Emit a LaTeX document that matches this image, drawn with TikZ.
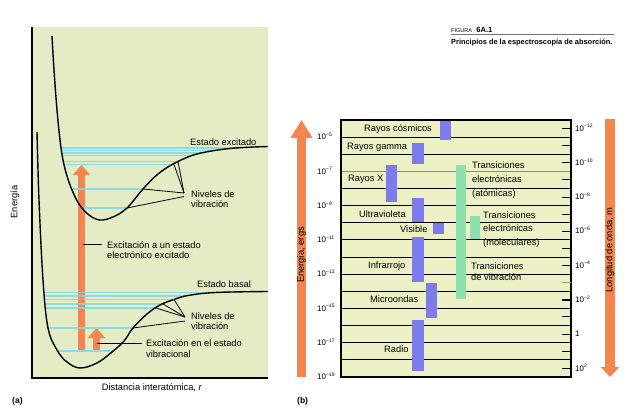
\documentclass[tikz,border=0pt]{standalone}
\usepackage{fontspec}
\setmainfont{Liberation Sans}
\usepackage{xcolor}
\usetikzlibrary{arrows.meta}

\definecolor{bgA}{RGB}{228,236,198}
\definecolor{bgB}{RGB}{237,240,196}
\definecolor{levelblue}{RGB}{120,218,240}
\definecolor{orangeA}{RGB}{245,132,78}
\definecolor{barblue}{RGB}{124,124,236}
\definecolor{bargreen}{RGB}{140,225,172}

\newcommand{\tenpow}[1]{10\raisebox{0.42em}{\fontsize{5}{5}\selectfont #1}}

\begin{document}
\begin{tikzpicture}[x=1pt, y=-1pt,
    txt/.style={font=\fontsize{9.3}{10.5}\selectfont, inner sep=0pt, anchor=west, align=left},
    potential/.style={line width=1.4pt, black, line join=round},
    level/.style={levelblue, line width=1.2pt, opacity=0.85},
    leader/.style={line width=0.8pt, black},
    % -- fat orange arrows --
    bigarrow/.style={orangeA, line width=7pt, -{Triangle[length=10pt, width=17pt]}},
    smallarrow/.style={orangeA, line width=7pt, -{Triangle[length=10pt, width=17pt]}},
    energyarrow/.style={orangeA, line width=9pt, -{Triangle[length=18pt, width=21pt]}},
    wavearrow/.style={orangeA, line width=10pt, -{Triangle[length=10pt, width=18pt]}},
    gridline/.style={line width=0.9pt, black},
    tickmark/.style={line width=1pt, black},
    band/.style={fill=barblue},
    trans/.style={fill=bargreen},
    pow/.style={font=\fontsize{8}{8}\selectfont, inner sep=0pt, anchor=base west},
]

\useasboundingbox (0,0) rectangle (635,414);
\fill[white] (0,0) rectangle (635,414);

% ══════════════════════════════════════
% Title
% ══════════════════════════════════════
\node[inner sep=0pt, anchor=west, font=\fontsize{5.5}{6}\selectfont] (fig) at (451,31) {FIGURA};
\node[inner sep=0pt, anchor=base west, font=\fontsize{7.6}{8}\selectfont\bfseries] (fignum) at ([xshift=4pt]fig.base east) {6A.1};
\draw[black!55, line width=0.6pt] (451,34.8) -- (614,34.8);
\node[inner sep=0pt, anchor=west, font=\fontsize{7.4}{8}\selectfont\bfseries] (figtitle) at (451,42.3) {Principios de la espectroscopía de absorción.};

% ══════════════════════════════════════
% (a) potential energy curves
% ══════════════════════════════════════
\fill[bgA] (32,27) rectangle (268,378);

% Excitation arrows
\coordinate (bigfoot) at (81.5,350);
\coordinate (bigtip) at (81.5,165);
\coordinate (smallfoot) at (96.5,350);
\coordinate (smalltip) at (96.5,328);
\draw[bigarrow] (bigfoot) -- (bigtip);
\draw[smallarrow] (smallfoot) -- (smalltip);

% Vibration levels, excited state
\begin{scope}
    \clip plot[smooth, tension=0.6] coordinates {(52,36) (54,70) (57,110) (60,140) (63,160) (67,176) (72,190) (79,204) (89,215) (100,220) (113,217) (127,208) (143,189) (158,174) (175,163) (197,154) (230,148.5) (268,146.5)} -- (268,36) -- cycle;
    \foreach \yy in {148,150.5,153,155.5,161.5,164.5,189,208}
        \draw[level] (40,\yy) -- (268,\yy);
\end{scope}

% Vibration levels, ground state
\begin{scope}
    \clip plot[smooth, tension=0.6] coordinates {(37,132) (39,200) (43,280) (48,328) (57,350) (67,362) (80,368) (97,363) (112,352) (124,341) (133,328) (147,314) (160,305) (174,299.5) (188,295.5) (215,292.5) (268,291.5)} -- (268,132) -- cycle;
    \foreach \yy in {292.5,296,299.5,304,308,328,351}
        \draw[level] (34,\yy) -- (268,\yy);
\end{scope}

% Curves
\draw[potential] plot[smooth, tension=0.6] coordinates {(52,36) (54,70) (57,110) (60,140) (63,160) (67,176) (72,190) (79,204) (89,215) (100,220) (113,217) (127,208) (143,189) (158,174) (175,163) (197,154) (230,148.5) (268,146.5)};
\draw[potential] plot[smooth, tension=0.6] coordinates {(37,132) (39,200) (43,280) (48,328) (57,350) (67,362) (80,368) (97,363) (112,352) (124,341) (133,328) (147,314) (160,305) (174,299.5) (188,295.5) (215,292.5) (268,291.5)};

% Axes
\draw[line width=1.2pt] (32,27) -- (32,378) -- (268,378);

% Labels
\node[txt] (exc) at (190,142) {Estado excitado};
\node[txt] (bas) at (197,284) {Estado basal};
\node[txt] (nvE) at (191,199) {Niveles de\\vibración};
\node[txt] (nvB) at (191,321) {Niveles de\\vibración};
\node[txt] (exA) at (107,250) {Excitación a un estado\\electrónico excitado};
\node[txt] (exV) at (146,348.5) {Excitación en el estado\\vibracional};
\node[txt, anchor=center, rotate=90] (energyA) at (15,202) {Energía};
\node[txt, anchor=center] (dist) at (152,388) {Distancia interatómica, \textit{r}};
\node[inner sep=0pt, anchor=west, font=\fontsize{8.5}{9}\selectfont\bfseries] (parta) at (12,401) {(a)};

% Leaders
\coordinate (nvEjoin) at (184,193);
\coordinate (nvEjoinb) at (184,196.5);
\coordinate (nvE1) at (174,164.5);
\coordinate (nvE2) at (178,161.5);
\coordinate (nvE3) at (143,189);
\coordinate (nvE4) at (127,208);
\draw[leader] (nvEjoin) -- (nvE1);
\draw[leader] (nvEjoin) -- (nvE2);
\draw[leader] (nvEjoin) -- (nvE3);
\draw[leader] (nvEjoinb) -- (nvE4);

\coordinate (nvBjoin) at (185,317);
\coordinate (nvBjoinb) at (185,321);
\coordinate (nvB1) at (156,308);
\coordinate (nvB2) at (163,304);
\coordinate (nvB3) at (174,299.5);
\coordinate (nvB4) at (133,328);
\draw[leader] (nvBjoin) -- (nvB1);
\draw[leader] (nvBjoin) -- (nvB2);
\draw[leader] (nvBjoin) -- (nvB3);
\draw[leader] (nvBjoinb) -- (nvB4);

\coordinate (exAarr) at (83,244);
\coordinate (exVarr) at (97,343.5);
\draw[leader] (exAarr) -- ([xshift=-5pt]exAarr -| exA.west);
\draw[leader] (exVarr) -- ([xshift=-4pt]exVarr -| exV.west);

% ══════════════════════════════════════
% (b) electromagnetic spectrum
% ══════════════════════════════════════
\fill[bgB] (341,120) rectangle (571,377);
\foreach \k in {1,2,5,6,7,8,9,10,11,12,13,14}
    \draw[gridline] (341,{120+17.133*\k}) -- (571,{120+17.133*\k});
\draw[gridline, black!45] (341,171.4) -- (571,171.4);
\draw[gridline, line width=1.6pt] (341,188.5) -- (571,188.5);

% Radiation bands
\fill[band] (440,120) rectangle (451,140);
\fill[band] (412,143) rectangle (424,164);
\fill[band] (386,165) rectangle (397,202);
\fill[band] (412,198) rectangle (424,222);
\fill[band] (433,223) rectangle (444,234);
\fill[band] (412,237) rectangle (424,282);
\fill[band] (426,283) rectangle (437,318);
\fill[band] (412,320) rectangle (424,371);

% Transitions
\fill[trans] (456,165) rectangle (466,299);
\fill[trans] (470,216) rectangle (480,239);

% Frame and wavelength ticks
\draw[line width=1.1pt] (341,120) rectangle (571,377);
\foreach \j in {0,...,14}
    \draw[tickmark] (562,{128.5+17.133*\j}) -- (571,{128.5+17.133*\j});
\draw[tickmark, line width=1.8pt] (562,265.6) -- (571,265.6);
\draw[tickmark, line width=1.8pt] (562,299.8) -- (571,299.8);
\draw[tickmark, black!40] (562,282.7) -- (571,282.7);

% Band labels
\node[txt] (cos) at (364,129) {Rayos cósmicos};
\node[txt] (gam) at (347,147) {Rayos gamma};
\node[txt] (rx) at (348,179) {Rayos X};
\node[txt] (uv) at (359,214) {Ultravioleta};
\node[txt] (vis) at (400,229) {Visible};
\node[txt] (ir) at (368,266) {Infrarrojo};
\node[txt] (mic) at (370,299) {Microondas};
\node[txt] (rad) at (384,349) {Radio};
\node[txt, font=\fontsize{9.3}{14}\selectfont] (tat) at (472,180) {Transiciones\\electrónicas\\(atómicas)};
\node[txt, font=\fontsize{9.3}{13.5}\selectfont] (tmol) at (483,229.5) {Transiciones\\electrónicas\\(moleculares)};
\node[txt, font=\fontsize{9.3}{11}\selectfont] (tvib) at (471,271.5) {Transiciones\\de vibración};

% Energy scale
\node[pow] (e5) at (317,139.8) {\tenpow{−5}};
\node[pow] (e7) at (317,174.1) {\tenpow{−7}};
\node[pow] (e9) at (317,208.4) {\tenpow{−9}};
\node[pow] (e11) at (317,242.6) {\tenpow{−11}};
\node[pow] (e13) at (317,276.9) {\tenpow{−13}};
\node[pow] (e15) at (317,311.1) {\tenpow{−15}};
\node[pow] (e17) at (317,345.4) {\tenpow{−17}};
\node[pow] (e19) at (317,379.7) {\tenpow{−19}};

% Wavelength scale
\node[pow] (w12) at (575,131.2) {\tenpow{−12}};
\node[pow] (w10) at (575,165.5) {\tenpow{−10}};
\node[pow] (w8) at (575,199.7) {\tenpow{−8}};
\node[pow] (w6) at (575,234) {\tenpow{−6}};
\node[pow] (w4) at (575,268.3) {\tenpow{−4}};
\node[pow] (w2) at (575,302.5) {\tenpow{−2}};
\node[pow] (w0) at (575,336.8) {1};
\node[pow] (wp2) at (575,371.1) {\tenpow{2}};

% Side arrows
\coordinate (enfoot) at (301.5,377);
\coordinate (entip) at (301.5,120);
\coordinate (wvfoot) at (610,119);
\coordinate (wvtip) at (610,377);
\draw[energyarrow] (enfoot) -- (entip);
\draw[wavearrow] (wvfoot) -- (wvtip);
\node[txt, anchor=center, rotate=90] (enlbl) at (301.5,255) {Energía, ergs};
\node[txt, anchor=center, rotate=90] (wvlbl) at (610,250) {Longitud de onda, m};

\node[inner sep=0pt, anchor=west, font=\fontsize{8.5}{9}\selectfont\bfseries] (partb) at (297,401) {(b)};

\end{tikzpicture}
\end{document}
